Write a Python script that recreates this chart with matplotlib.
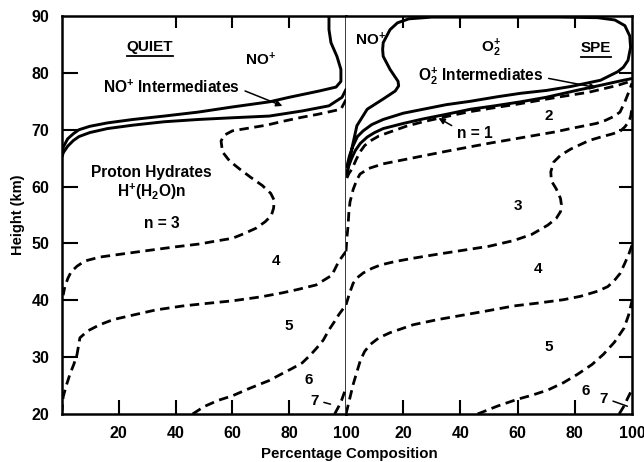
"""
Ion composition profiles, quiet vs SPE conditions.
Two panels share the height axis; boundaries are cumulative percentages.
"""

import matplotlib
matplotlib.use("Agg")
import matplotlib.pyplot as plt
from matplotlib.lines import Line2D

plt.rcParams["font.family"] = ["Liberation Sans", "DejaVu Sans"]
plt.rcParams["font.weight"] = "bold"
plt.rcParams["mathtext.fontset"] = "custom"
plt.rcParams["mathtext.rm"] = "Liberation Sans:bold"
plt.rcParams["mathtext.it"] = "Liberation Sans:bold"
plt.rcParams["mathtext.bf"] = "Liberation Sans:bold"
plt.rcParams["mathtext.default"] = "rm"

# ---- QUIET panel (percent composition, height km)
quiet_no_x = [94, 94, 94.7, 96.8, 98.2, 98.2, 96.5, 90.5, 80, 73, 60, 48, 36, 25, 16, 9.8, 6, 4, 2, 0.5, 0]
quiet_no_y = [90, 87.6, 85.3, 82.9, 80.6, 78.5, 77.5, 76.8, 75.7, 74.9, 74.0, 73.1, 72.4, 71.8, 71.2, 70.6, 70.0, 69.3, 68.4, 67.0, 65.3]

quiet_int_x = [100, 98.6, 94, 84.6, 73, 60, 48, 36, 25, 16, 9.8, 6, 4, 2, 0.5, 0]
quiet_int_y = [77.1, 75.7, 74.2, 73.3, 72.4, 72.1, 71.8, 71.4, 70.8, 70.2, 69.5, 68.8, 68.1, 67.1, 66.0, 65.3]

quiet_n3_x = [100, 98.2, 90, 84.6, 78, 72, 66, 60, 57, 56, 56.5, 59, 62.5, 66.5, 70.5, 73.5, 74.7, 74.5,
              73.7, 71.5, 68.4, 64, 60, 54, 48.4, 40, 30.9, 22, 13.3, 8, 5.3, 3.2, 2.1, 1.0, 0.4]
quiet_n3_y = [75.3, 73.6, 72.7, 72.2, 71.5, 70.8, 70.3, 69.8, 69.0, 68.0, 66.1, 64.5, 63.1, 61.6, 60.2, 58.8, 57.6, 56.2,
              54.9, 53.8, 52.7, 51.7, 50.9, 50.4, 49.9, 49.4, 48.8, 48.2, 47.6, 46.9, 46.0, 45.0, 43.9, 42.4, 40.9]

quiet_n4_x = [100, 97.5, 95, 89.5, 83, 77.5, 70, 60, 50, 42.5, 33, 25, 18, 13.3, 9, 6.3, 5.3, 4.2, 2.8, 1.5, 0.4, 0]
quiet_n4_y = [48.6, 46.9, 44.4, 42.7, 41.9, 41.3, 40.6, 39.9, 39.4, 39.0, 38.3, 37.4, 36.6, 35.7, 34.6, 33.4, 30.5,
              28.8, 27.0, 25.0, 23.0, 20.5]

quiet_n5_x = [46, 50, 55, 60, 66, 73, 77.5, 81, 84.6, 87.5, 89.5, 92, 94, 96, 97.5, 100]
quiet_n5_y = [20, 21.3, 22.4, 23.2, 24.5, 25.9, 27.1, 28.0, 29.0, 30.4, 31.5, 33.0, 34.8, 36.3, 37.5, 39.2]

quiet_n6_x = [96, 97.5, 98.5, 100]
quiet_n6_y = [20, 21.4, 22.5, 24.6]

# ---- SPE panel
spe_no_x = [0, 0.7, 2, 3.8, 7.4, 13, 17.2, 18.4, 18.2, 15.4, 13, 12.8, 13, 15.4, 18, 22, 30, 45, 60, 75, 88, 94,
            97.5, 99.2, 99.5, 98.6, 97, 95, 89, 78.6, 70, 61, 53, 43.5, 35, 27, 20, 13, 9, 6, 4, 2.5, 1.2, 0.3]
spe_no_y = [62, 63.1, 66.6, 70.7, 73.6, 75.4, 76.8, 77.7, 78.5, 80.6, 82.9, 84.1, 85.3, 87.6, 88.8, 89.5, 89.8,
            89.8, 89.8, 89.8, 89.7, 89.3, 88.3, 86.5, 84.5, 82.2, 81.0, 80.2, 78.7, 77.6, 76.9, 76.4, 75.8, 75.0,
            74.4, 73.6, 72.9, 71.8, 70.9, 69.8, 68.8, 67.2, 65.4, 63.5]

spe_int_x = [0.3, 0.7, 2, 3.2, 5, 7.4, 10, 13, 20, 27, 35, 43.5, 52, 61, 70, 81.4, 88, 93.4, 97, 100]
spe_int_y = [62, 63.3, 65, 66.3, 67.6, 68.7, 69.5, 70.2, 71.1, 71.9, 72.7, 73.6, 74.2, 74.9, 75.7, 77.0, 77.7,
             78.3, 78.7, 79.0]

spe_n2_x = [0.3, 1.0, 2.1, 3.5, 4.9, 6.5, 8.4, 11.5, 15.4, 21, 27, 35, 42.5, 51, 60, 68, 75, 85, 95, 100]
spe_n2_y = [61.5, 62.3, 63.1, 64.7, 66.1, 67.2, 68.0, 68.9, 69.6, 70.6, 71.4, 72.3, 73.1, 73.8, 74.5, 75.2,
            75.8, 76.6, 77.8, 78.6]

spe_n3_x = [0, 0.3, 0.7, 1.0, 1.4, 2.5, 3.8, 4.9, 8, 13, 20, 27, 35, 43.5, 51, 58, 66, 73, 78.5, 83.5, 87.5,
            90.5, 93.5, 95.8, 97.5, 99, 100]
spe_n3_y = [48.6, 51, 53, 55.5, 57.3, 59.5, 61.2, 62.2, 63.2, 64.0, 64.7, 65.4, 66.2, 67.0, 67.7, 68.3, 69.0,
            69.6, 70.2, 70.7, 71.1, 71.6, 72.3, 73.1, 74.9, 76.8, 78.2]

spe_n4_x = [0, 1.2, 2.5, 4, 6, 9, 12, 17, 23.5, 32, 41, 50, 58.6, 65, 70.5, 73.5, 75, 75.3, 75, 73.5, 71.8,
            71.6, 72.6, 75, 78.6, 82, 85, 89, 93.4, 96, 97.5, 99, 99.6, 100]
spe_n4_y = [39.2, 41.2, 43.0, 44.0, 44.8, 45.6, 46.2, 46.8, 47.4, 48.1, 48.8, 49.5, 50.5, 51.6, 53.2, 54.4,
            55.6, 56.8, 57.9, 59.6, 61.0, 62.6, 64.3, 65.5, 66.6, 67.4, 68.1, 68.7, 69.3, 69.8, 70.5, 71.5,
            72.5, 74]

spe_n5_x = [0, 1.2, 2.5, 3.8, 5, 6.5, 8.4, 11.5, 15.4, 23.5, 32, 41, 50, 58.6, 67, 76, 82, 88, 91.5, 93.7,
            95.8, 97.2, 98.8, 100]
spe_n5_y = [20, 22.5, 25.2, 27.4, 29.4, 31.0, 32.2, 33.4, 34.3, 35.7, 36.6, 37.4, 38.2, 39.0, 39.5, 40.1,
            40.7, 41.6, 42.4, 43.4, 44.7, 46.2, 48.0, 49.7]

spe_n6_x = [46, 53, 60, 65, 70.5, 76, 81, 86, 90, 93.8, 97.2, 98.8, 100]
spe_n6_y = [20, 21.4, 22.6, 23.3, 24.2, 25.5, 27, 28.7, 30.5, 32.6, 35.1, 37.4, 39.9]

spe_n7_x = [95.5, 97.2, 98.6, 100]
spe_n7_y = [20, 21.4, 22.9, 24.3]

x_ticks = [20, 40, 60, 80, 100]
y_ticks = [20, 30, 40, 50, 60, 70, 80, 90]
x_marks = [20, 40, 60, 80]
quiet_top_marks = [40, 60, 80]
y_marks = [30, 40, 50, 60, 70, 80]

SOLID = dict(color="black", lw=2.1, solid_capstyle="round")
DASHED = dict(color="black", lw=2.0, linestyle=(0, (3.4, 2.0)))
TICK = dict(color="black", lw=1.5, clip_on=False)

fig = plt.figure(figsize=(6.44, 4.62), dpi=100)
ax_q = fig.add_axes([0.0963, 0.1039, 0.4410, 0.8615])
ax_s = fig.add_axes([0.5373, 0.1039, 0.4441, 0.8615])

for ax in (ax_q, ax_s):
    ax.set_xlim(0, 100)
    ax.set_ylim(20, 90)
    for sp in ax.spines.values():
        sp.set_linewidth(1.8)
        sp.set_color("black")
    ax.set_xticks(x_ticks)
    ax.set_xticklabels([str(t) for t in x_ticks])
    ax.tick_params(axis="x", length=0, pad=9, labelsize=11.5, labelcolor="black")
    # inward tick marks along the bottom
    ax.vlines(x_marks, 0, 0.036, transform=ax.get_xaxis_transform(), **TICK)

# top tick marks
ax_q.vlines(quiet_top_marks, 0.97, 1, transform=ax_q.get_xaxis_transform(), **TICK)
ax_s.vlines(x_marks, 0.97, 1, transform=ax_s.get_xaxis_transform(), **TICK)

# left panel y axis
ax_q.set_yticks(y_ticks)
ax_q.tick_params(axis="y", length=0, pad=9, labelsize=11.5, labelcolor="black")
ax_q.hlines(y_marks, 0, 0.055, transform=ax_q.get_yaxis_transform(), **TICK)
ax_q.set_ylabel("Height (km)", fontsize=10.5, fontweight="bold", labelpad=5)

# right panel: marks on the right, no labels
ax_s.spines["left"].set_visible(False)
ax_s.set_yticks([])
ax_s.hlines(y_marks, 0.955, 1, transform=ax_s.get_yaxis_transform(), **TICK)

# quiet curves
ax_q.plot(quiet_no_x, quiet_no_y, **SOLID)
ax_q.plot(quiet_int_x, quiet_int_y, **SOLID)
for xs, ys in [(quiet_n3_x, quiet_n3_y), (quiet_n4_x, quiet_n4_y),
               (quiet_n5_x, quiet_n5_y), (quiet_n6_x, quiet_n6_y)]:
    ax_q.plot(xs, ys, **DASHED)

# SPE curves
ax_s.plot(spe_no_x, spe_no_y, **SOLID)
ax_s.plot(spe_int_x, spe_int_y, **SOLID)
for xs, ys in [(spe_n2_x, spe_n2_y), (spe_n3_x, spe_n3_y), (spe_n4_x, spe_n4_y),
               (spe_n5_x, spe_n5_y), (spe_n6_x, spe_n6_y), (spe_n7_x, spe_n7_y)]:
    ax_s.plot(xs, ys, **DASHED)

TXT = dict(ha="center", va="center", fontweight="bold", color="black")
ARROW = dict(arrowstyle="-|>", color="black", lw=1.1, mutation_scale=9)
LEADER = dict(arrowstyle="-", color="black", lw=1.1)
LBL = 11.2

# quiet labels
quiet_title = ax_q.text(31, 84.6, "QUIET", fontsize=11, **TXT)
ax_q.text(70, 82.4, "NO$^{+}$", fontsize=11, **TXT)
ax_q.annotate("NO$^{+}$ Intermediates", xy=(78.5, 74.0), xytext=(38.5, 77.5),
              fontsize=LBL, ha="center", va="center", fontweight="bold",
              arrowprops=dict(ARROW, relpos=(1.0, 0.4)))
ax_q.text(31.6, 62.4, "Proton Hydrates", fontsize=LBL, **TXT)
ax_q.text(31.6, 59.1, "H$^{+}$(H$_{2}$O)n", fontsize=LBL, **TXT)
ax_q.text(35, 53.5, "n = 3", fontsize=LBL, **TXT)
ax_q.text(75.4, 46.9, "4", fontsize=11, **TXT)
ax_q.text(80, 35.5, "5", fontsize=11, **TXT)
ax_q.text(87, 25.9, "6", fontsize=11, **TXT)
ax_q.annotate("7", xy=(95.5, 21.6), xytext=(88.8, 22.3), fontsize=11, ha="center", va="center",
              fontweight="bold", arrowprops=dict(LEADER, relpos=(1.0, 0.5)))

# SPE labels
ax_s.text(8.4, 85.9, "NO$^{+}$", fontsize=11, **TXT)
ax_s.text(50.5, 84.3, "O$_{2}^{+}$", fontsize=11, **TXT)
spe_title = ax_s.text(87.4, 84.4, "SPE", fontsize=11, **TXT)
ax_s.annotate("O$_{2}^{+}$ Intermediates", xy=(88.5, 77.3), xytext=(47, 79.4),
              fontsize=LBL, ha="center", va="center", fontweight="bold",
              arrowprops=dict(ARROW, relpos=(1.0, 0.45)))
ax_s.text(71, 72.4, "2", fontsize=11, **TXT)
ax_s.annotate("n = 1", xy=(31.5, 72.3), xytext=(45, 69.4), fontsize=LBL, ha="center", va="center",
              fontweight="bold", arrowprops=dict(ARROW, relpos=(0.0, 0.8)))
ax_s.text(60, 56.5, "3", fontsize=11, **TXT)
ax_s.text(67, 45.5, "4", fontsize=11, **TXT)
ax_s.text(71, 31.7, "5", fontsize=11, **TXT)
ax_s.text(83.9, 24.1, "6", fontsize=11, **TXT)
ax_s.annotate("7", xy=(99.3, 21.2), xytext=(90, 22.6), fontsize=11, ha="center", va="center",
              fontweight="bold", arrowprops=dict(LEADER, relpos=(1.0, 0.5)))

fig.text(0.542, 0.017, "Percentage Composition", fontsize=10.8, fontweight="bold",
         ha="center", va="center")

# underline the two condition titles
fig.canvas.draw()
inv = fig.transFigure.inverted()
for t in (quiet_title, spe_title):
    bb = t.get_window_extent().transformed(inv)
    fig.add_artist(Line2D([bb.x0, bb.x1], [bb.y0 - 0.004, bb.y0 - 0.004],
                          color="black", lw=1.3, transform=fig.transFigure))

fig.savefig("out.png", dpi=100)
